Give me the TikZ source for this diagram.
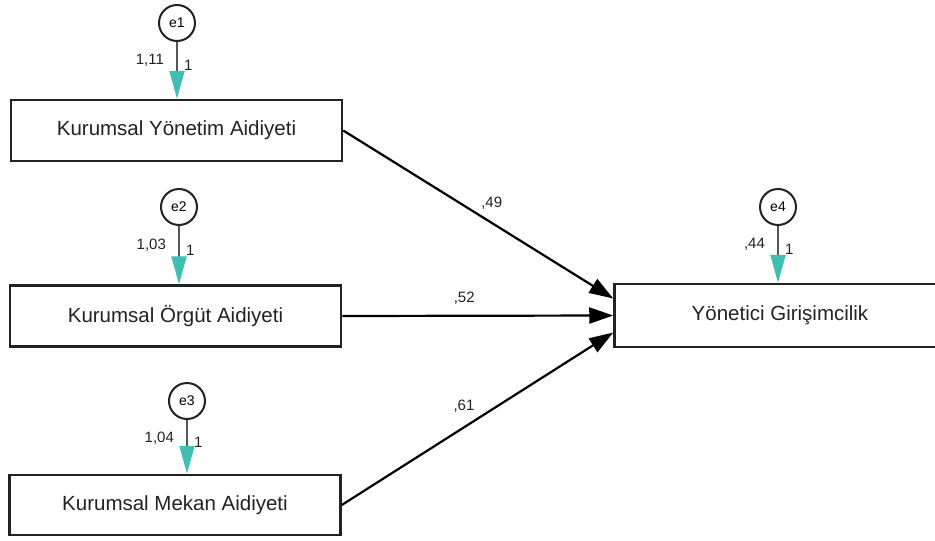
\documentclass[tikz,border=0pt]{standalone}
\usepackage{fontspec}
\setmainfont{Liberation Sans}
\usetikzlibrary{arrows.meta}
\definecolor{errteal}{HTML}{3FBFB2}
\definecolor{linegray}{HTML}{555555}
\definecolor{inkgray}{HTML}{222222}
\begin{document}
\begin{tikzpicture}[
        x=1pt, y=-1pt,
        box/.style={draw=inkgray, line width=2.5pt, minimum width=331pt, minimum height=61pt, align=center, text=inkgray, font=\fontsize{20.5}{24}\selectfont},
        err/.style={circle, draw=inkgray, line width=2pt, minimum size=36pt, inner sep=0pt, font=\fontsize{14}{16}\selectfont},
        errarrow/.style={draw=linegray, line width=2.2pt, -{Triangle[length=28pt, width=15pt, fill=errteal, color=errteal]}},
        patharrow/.style={draw=black, line width=2.2pt, -{Triangle[length=24pt, width=16pt]}},
        lbl/.style={font=\fontsize{15}{17}\selectfont, text=inkgray, inner sep=1pt}
    ]
        \useasboundingbox (0,0) rectangle (935,541);

        % Observed variables
        \node[box] (kya) at (176.5,130.5) {Kurumsal Yönetim Aidiyeti};
        \node[box] (koa) at (175.5,316) {Kurumsal Örgüt Aidiyeti};
        \node[box, minimum height=60pt] (kma) at (175,505) {Kurumsal Mekan Aidiyeti};
        \node[box, minimum height=63pt] (yg) at (780,315.5) {Yönetici Girişimcilik};

        % Error terms
        \node[err] (e1) at (177,23) {e1};
        \node[err] (e2) at (179,207) {e2};
        \node[err] (e3) at (187,401) {e3};
        \node[err] (e4) at (778,207) {e4};

        % Error arrows with variances
        \draw[errarrow] (e1) -- node[lbl, pos=.33, left=11pt] {1,11} node[lbl, pos=.42, right=5pt] {1} (e1 |- kya.north);
        \draw[errarrow] (e2) -- node[lbl, pos=.33, left=11pt] {1,03} node[lbl, pos=.42, right=5pt] {1} (e2 |- koa.north);
        \draw[errarrow] (e3) -- node[lbl, pos=.33, left=11pt] {1,04} node[lbl, pos=.42, right=5pt] {1} (e3 |- kma.north);
        \draw[errarrow] (e4) -- node[lbl, pos=.33, left=11pt] {,44} node[lbl, pos=.42, right=5pt] {1} (e4 |- yg.north);

        % Paths to the outcome
        \draw[patharrow] (kya.east) -- node[lbl, pos=.55, above=11pt] {,49} ([yshift=17pt]yg.west);
        \draw[patharrow] (koa.east) -- node[lbl, pos=.45, above=9pt] {,52} (yg.west);
        \draw[patharrow] (kma.east) -- node[lbl, pos=.45, above=13pt] {,61} ([yshift=-17pt]yg.west);
    \end{tikzpicture}
\end{document}
